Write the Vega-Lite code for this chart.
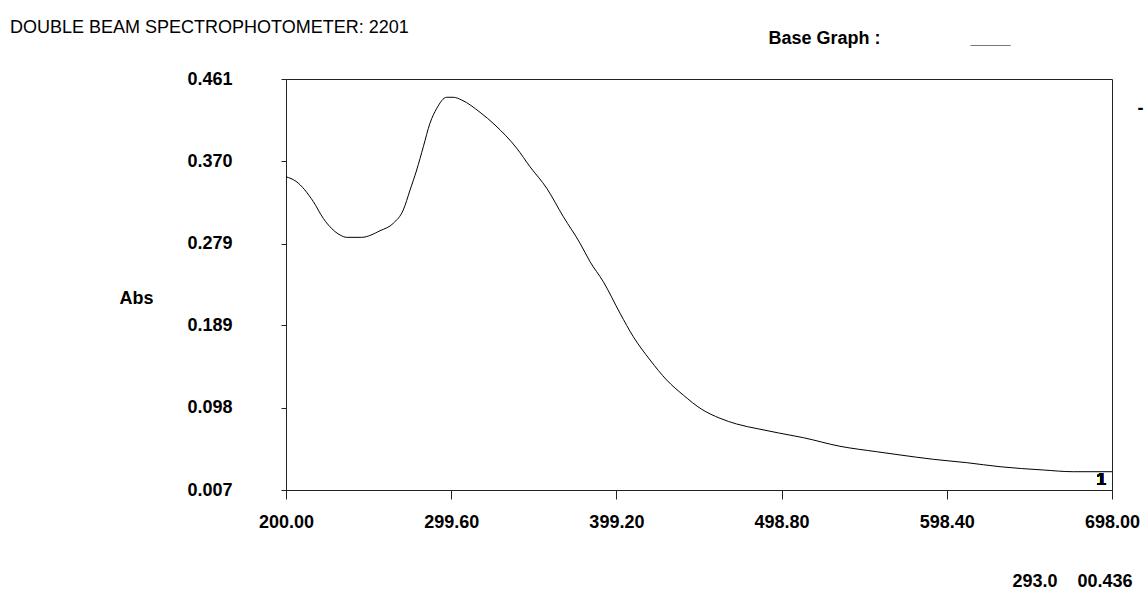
{
  "$schema": "https://vega.github.io/schema/vega-lite/v6.json",
  "width": 826,
  "height": 411,
  "autosize": {"type": "none"},
  "padding": {"left": 286, "top": 79, "right": 33, "bottom": 121},
  "background": "white",
  "config": {
    "font": "Liberation Sans",
    "view": {"stroke": "#222", "strokeWidth": 1}
  },
  "title": {
    "text": "DOUBLE BEAM SPECTROPHOTOMETER: 2201",
    "anchor": "start",
    "frame": "group",
    "dx": -276,
    "dy": 22,
    "offset": 0,
    "font": "Liberation Sans",
    "fontSize": 18,
    "fontWeight": "normal",
    "color": "#000",
    "baseline": "alphabetic"
  },
  "data": {
    "values": [
      {"wavelength": 200.0, "abs": 0.353},
      {"wavelength": 206.0, "abs": 0.348},
      {"wavelength": 216.5, "abs": 0.3255},
      {"wavelength": 222.5, "abs": 0.307},
      {"wavelength": 232.6, "abs": 0.2887},
      {"wavelength": 236.6, "abs": 0.2861},
      {"wavelength": 245.6, "abs": 0.2861},
      {"wavelength": 256.7, "abs": 0.2934},
      {"wavelength": 264.7, "abs": 0.3016},
      {"wavelength": 270.7, "abs": 0.3163},
      {"wavelength": 274.8, "abs": 0.3384},
      {"wavelength": 278.8, "abs": 0.3605},
      {"wavelength": 282.8, "abs": 0.3862},
      {"wavelength": 286.8, "abs": 0.4121},
      {"wavelength": 290.9, "abs": 0.4286},
      {"wavelength": 296.9, "abs": 0.4408},
      {"wavelength": 300.9, "abs": 0.4408},
      {"wavelength": 305.9, "abs": 0.4378},
      {"wavelength": 317.0, "abs": 0.4242},
      {"wavelength": 326.0, "abs": 0.4102},
      {"wavelength": 339.1, "abs": 0.3845},
      {"wavelength": 347.1, "abs": 0.3641},
      {"wavelength": 357.2, "abs": 0.3403},
      {"wavelength": 367.2, "abs": 0.3089},
      {"wavelength": 377.3, "abs": 0.2795},
      {"wavelength": 383.3, "abs": 0.2592},
      {"wavelength": 391.3, "abs": 0.2371},
      {"wavelength": 401.4, "abs": 0.2022},
      {"wavelength": 409.4, "abs": 0.1763},
      {"wavelength": 419.5, "abs": 0.1506},
      {"wavelength": 429.5, "abs": 0.1285},
      {"wavelength": 439.5, "abs": 0.1119},
      {"wavelength": 450.6, "abs": 0.0962},
      {"wavelength": 461.7, "abs": 0.0862},
      {"wavelength": 471.7, "abs": 0.0799},
      {"wavelength": 484.8, "abs": 0.0745},
      {"wavelength": 497.0, "abs": 0.0700},
      {"wavelength": 511.9, "abs": 0.0648},
      {"wavelength": 534.0, "abs": 0.0553},
      {"wavelength": 556.1, "abs": 0.0493},
      {"wavelength": 570.2, "abs": 0.0457},
      {"wavelength": 590.3, "abs": 0.0409},
      {"wavelength": 610.4, "abs": 0.0372},
      {"wavelength": 630.5, "abs": 0.0327},
      {"wavelength": 656.6, "abs": 0.0291},
      {"wavelength": 674.7, "abs": 0.0272},
      {"wavelength": 698.0, "abs": 0.0272}
    ]
  },
  "layer": [
    {
      "mark": {"type": "line", "color": "#000", "strokeWidth": 1, "interpolate": "monotone"},
      "encoding": {
        "x": {
          "field": "wavelength",
          "type": "quantitative",
          "scale": {"domain": [200, 698], "nice": false, "zero": false},
          "axis": {
            "orient": "bottom",
            "values": [200, 299.6, 399.2, 498.8, 598.4, 698],
            "format": ".2f",
            "grid": false,
            "domainColor": "#222",
            "tickColor": "#222",
            "tickSize": 9,
            "labelPadding": 14,
            "labelFont": "Liberation Sans",
            "labelFontSize": 18,
            "labelFontWeight": "bold",
            "labelColor": "#000",
            "labelFlush": false,
            "labelOverlap": false,
            "title": "293.0\u00a0\u00a0\u00a0\u00a000.436",
            "titleFont": "Liberation Sans",
            "titleFontSize": 18,
            "titleFontWeight": "bold",
            "titleColor": "#000",
            "titleAlign": "right",
            "titleBaseline": "alphabetic",
            "titleX": 846,
            "titleY": 96
          }
        },
        "y": {
          "field": "abs",
          "type": "quantitative",
          "scale": {"domain": [0.007, 0.461], "nice": false, "zero": false},
          "axis": {
            "orient": "left",
            "values": [0.007, 0.098, 0.189, 0.279, 0.37, 0.461],
            "format": ".3f",
            "grid": false,
            "domainColor": "#222",
            "tickColor": "#222",
            "tickSize": 5,
            "labelPadding": 49,
            "labelFont": "Liberation Sans",
            "labelFontSize": 18,
            "labelFontWeight": "bold",
            "labelColor": "#000",
            "labelFlush": false,
            "labelOverlap": false,
            "labelBaseline": "middle",
            "title": "Abs",
            "titleFont": "Liberation Sans",
            "titleFontSize": 18,
            "titleFontWeight": "bold",
            "titleColor": "#000",
            "titleAngle": 0,
            "titleAlign": "left",
            "titleBaseline": "alphabetic",
            "titleX": -167,
            "titleY": 224
          }
        }
      }
    },
    {
      "mark": {"type": "text", "text": "1", "align": "right", "baseline": "bottom", "dx": -6, "dy": -1, "font": "Liberation Sans", "fontSize": 17, "fontWeight": "bold", "color": "#000"},
      "encoding": {
        "x": {
          "datum": 698,
          "type": "quantitative",
          "axis": {
            "orient": "top",
            "labels": false,
            "ticks": false,
            "domain": false,
            "grid": false,
            "title": "Base Graph :\u00a0\u00a0\u00a0\u00a0\u00a0\u00a0\u00a0\u00a0\u00a0\u00a0\u00a0\u00a0\u00a0\u00a0\u00a0\u00a0\u00a0\u00a0____",
            "titleFont": "Liberation Sans",
            "titleFontSize": 18,
            "titleFontWeight": "bold",
            "titleColor": "#000",
            "titleAlign": "left",
            "titleBaseline": "alphabetic",
            "titleX": 482,
            "titleY": -36
          }
        },
        "y": {
          "datum": 0.007,
          "type": "quantitative",
          "axis": {
            "orient": "right",
            "labels": false,
            "ticks": false,
            "domain": false,
            "grid": false,
            "title": "-",
            "titleFont": "Liberation Sans",
            "titleFontSize": 18,
            "titleFontWeight": "bold",
            "titleColor": "#000",
            "titleAngle": 0,
            "titleAlign": "left",
            "titleBaseline": "middle",
            "titleX": 25,
            "titleY": 29
          }
        }
      }
    }
  ],
  "resolve": {"axis": {"x": "independent", "y": "independent"}}
}
